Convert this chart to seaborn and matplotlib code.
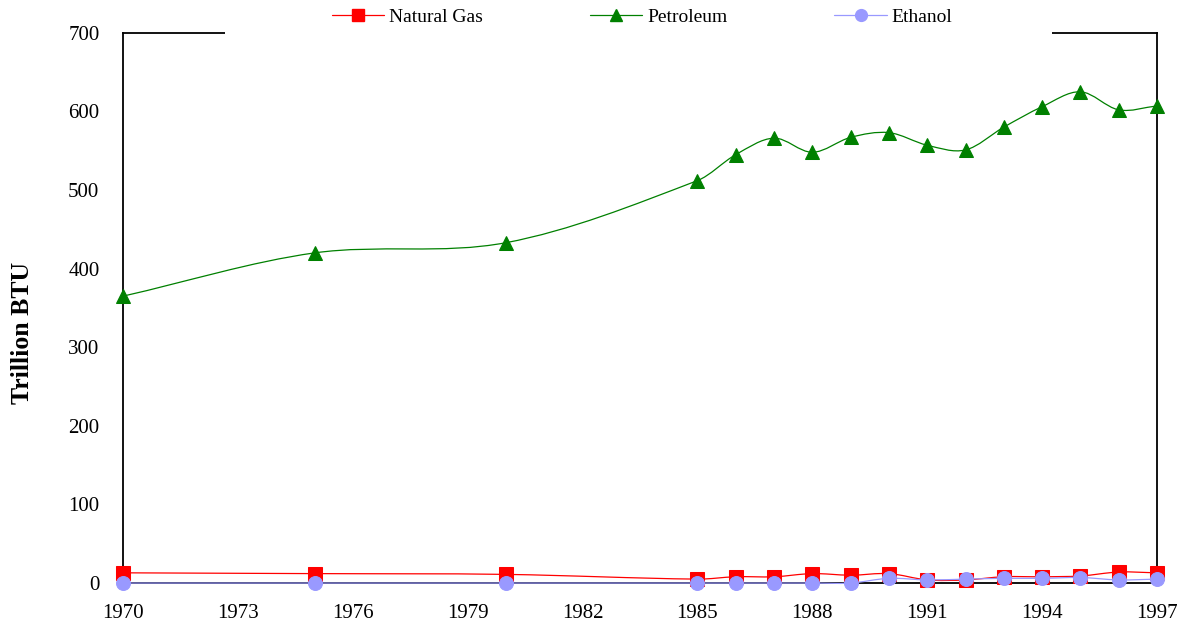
import numpy as np
import pandas as pd
import matplotlib
matplotlib.use("Agg")
import matplotlib.pyplot as plt
from matplotlib.path import Path
from matplotlib.patches import PathPatch, Rectangle
from matplotlib.lines import Line2D
import seaborn as sns

years = [1970, 1975, 1980, 1985, 1986, 1987, 1988, 1989, 1990,
         1991, 1992, 1993, 1994, 1995, 1996, 1997]
natural_gas = [13, 12, 11, 5, 8, 8, 12, 10, 12, 4, 4, 8, 8, 9, 14, 13]
petroleum = [365, 420, 433, 512, 545, 566, 548, 567, 573,
             557, 551, 580, 606, 625, 602, 607]
ethanol = [0, 0, 0, 0, 0, 0, 0, 0, 6, 4, 5, 6, 6, 7, 4, 5]
x_ticks = [1970, 1973, 1976, 1979, 1982, 1985, 1988, 1991, 1994, 1997]


def smooth_path(xs, ys):
    # smoothed line like Excel: cubic bezier segments through every point
    x = np.asarray(xs, dtype=float)
    y = np.asarray(ys, dtype=float)
    n = len(x)
    slope = np.empty(n)
    for i in range(n):
        a = max(i - 1, 0)
        b = min(i + 1, n - 1)
        slope[i] = (y[b] - y[a]) / (x[b] - x[a])
    verts = [(x[0], y[0])]
    codes = [Path.MOVETO]
    for i in range(n - 1):
        h = (x[i + 1] - x[i]) / 3.0
        verts += [(x[i] + h, y[i] + slope[i] * h),
                  (x[i + 1] - h, y[i + 1] - slope[i + 1] * h),
                  (x[i + 1], y[i + 1])]
        codes += [Path.CURVE4] * 3
    return Path(verts, codes)


df = pd.DataFrame({"Year": years, "Natural Gas": natural_gas,
                   "Petroleum": petroleum, "Ethanol": ethanol})

sns.set_style("white")
plt.rcParams["font.family"] = ["Liberation Serif", "DejaVu Serif"]
plt.rcParams["text.color"] = "black"
plt.rcParams["axes.labelcolor"] = "black"
plt.rcParams["xtick.color"] = "black"
plt.rcParams["ytick.color"] = "black"

fig = plt.figure(figsize=(11.83, 6.31), dpi=100)
ax = fig.add_axes([0.104, 0.076, 0.874, 0.872])

series = [
    ("Natural Gas", "#FF0000", "s", 10),
    ("Petroleum", "#008000", "^", 10.5),
    ("Ethanol", "#9999FF", "o", 10),
]

handles = []
for name, color, marker, msize in series:
    patch = PathPatch(smooth_path(df["Year"], df[name]), facecolor="none",
                      edgecolor=color, lw=0.9, zorder=3, clip_on=False)
    ax.add_patch(patch)
    sns.lineplot(data=df, x="Year", y=name, ax=ax, marker=marker,
                 markersize=msize, color=color, markeredgecolor=color,
                 linestyle="none", zorder=4, clip_on=False)
    handles.append(Line2D([], [], color=color, lw=0.9, marker=marker,
                          markersize=msize - 1.5, markeredgecolor=color,
                          label=name))

ax.set_xlim(1970, 1997)
ax.set_ylim(0, 700)
ax.set_xticks(x_ticks)
ax.set_yticks(range(0, 701, 100))
ax.tick_params(axis="both", direction="out", length=5, width=1,
               color="black", labelsize=15, labelcolor="black")
ax.tick_params(axis="y", pad=12)
ax.tick_params(axis="x", pad=10)
ax.set_xlabel("")
ax.set_ylabel("Trillion BTU", fontsize=18.5, fontweight="bold")
ax.yaxis.set_label_coords(-0.086, 0.455)
for sp in ax.spines.values():
    sp.set_color("black")
    sp.set_linewidth(1.3)

# white legend area breaks the top frame line, as in the original
ax.add_patch(Rectangle((0.0986, 0.985), 0.8, 0.08, transform=ax.transAxes,
                       facecolor="white", edgecolor="none", zorder=6,
                       clip_on=False))

leg = ax.legend(handles=handles, loc="center", bbox_to_anchor=(0.502, 1.028),
                ncol=3, frameon=False, fontsize=14, handlelength=2.7,
                columnspacing=5.5, handletextpad=0.25, borderpad=0.2)
leg.set_zorder(10)

fig.savefig("out.png", dpi=100)
